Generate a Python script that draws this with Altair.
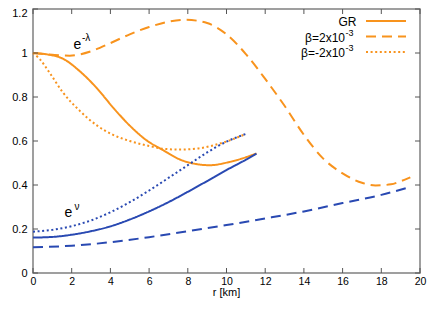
import altair as alt
import pandas as pd

# ---- data ----
r_gr_lam = [0, 0.7, 1.55, 2.42, 3.28, 4.14, 5.0, 5.87, 6.73, 7.59, 8.45, 9.14, 10.17, 11.55]
gr_lam = [1.0, 0.994, 0.974, 0.917, 0.842, 0.752, 0.670, 0.603, 0.558, 0.516, 0.495, 0.490, 0.505, 0.543]

r_plus_lam = [0, 1, 1.9, 3, 4, 5, 6, 7, 7.9, 9, 10, 11, 12, 13, 14, 15, 16, 17, 17.7, 18.5, 19, 19.5]
plus_lam = [1.0, 0.992, 0.988, 1.008, 1.045, 1.085, 1.118, 1.142, 1.151, 1.136, 1.085, 0.995,
            0.882, 0.76, 0.628, 0.52, 0.453, 0.41, 0.398, 0.403, 0.417, 0.435]

r_minus_lam = [0, 0.35, 0.86, 1.55, 2.42, 3.28, 4.14, 5.0, 5.87, 6.73, 7.59, 8.45, 9.31, 10.17, 11.0]
minus_lam = [1.0, 0.972, 0.91, 0.82, 0.737, 0.672, 0.628, 0.600, 0.580, 0.565, 0.561, 0.565,
             0.580, 0.603, 0.632]

r_gr_nu = [0, 1, 2, 3, 4, 5, 6, 7, 8, 9, 10, 11, 11.55]
gr_nu = [0.161, 0.164, 0.174, 0.19, 0.212, 0.243, 0.28, 0.322, 0.369, 0.418, 0.468, 0.515, 0.543]

r_plus_nu = [0, 2, 4, 6, 8, 10, 12, 14, 16, 18, 19.45]
plus_nu = [0.117, 0.124, 0.14, 0.163, 0.19, 0.218, 0.248, 0.28, 0.318, 0.355, 0.39]

r_minus_nu = [0, 1, 2, 3, 4, 5, 6, 7, 8, 9, 10, 11.0]
minus_nu = [0.188, 0.196, 0.213, 0.239, 0.276, 0.322, 0.375, 0.432, 0.49, 0.548, 0.597, 0.632]

x_ticks = [0, 2, 4, 6, 8, 10, 12, 14, 16, 18, 20]
y_ticks = [0, 0.2, 0.4, 0.6, 0.8, 1.0, 1.2]

models = ["GR", "plus", "minus"]
legend_main = ["GR", "β=2x10", "β=-2x10"]
legend_sup = ["", "-3", "-3"]
x_title = "r [km]"

ORANGE = "#f8931d"
BLUE = "#2949b2"
FONT = "Liberation Sans"

rows = []
for func, model, rr, vv in [
    ("lam", "GR", r_gr_lam, gr_lam),
    ("lam", "plus", r_plus_lam, plus_lam),
    ("lam", "minus", r_minus_lam, minus_lam),
    ("nu", "GR", r_gr_nu, gr_nu),
    ("nu", "plus", r_plus_nu, plus_nu),
    ("nu", "minus", r_minus_nu, minus_nu),
]:
    for a, b in zip(rr, vv):
        rows.append({"r": a, "v": b, "func": func, "model": model, "curve": func + model})
df = pd.DataFrame(rows)

W, H = 387, 264
xs = alt.Scale(domain=[0, 20], nice=False, zero=False)
ys = alt.Scale(domain=[0, 1.2], nice=False, zero=False)

x_axis = alt.Axis(values=x_ticks, title=None, format="~g", labelOverlap=False, labelFlush=False)
y_axis = alt.Axis(values=y_ticks, title=None, format="~g", labelOverlap=False, labelFlush=False,
                  labelOffset={"condition": {"test": "datum.value >= 1.19", "value": 4.5}, "value": 0})

dash_range = [[1, 0], [10, 6], [2, 2.6]]
color_scale = alt.Scale(domain=["lam", "nu"], range=[ORANGE, BLUE])
dash_scale = alt.Scale(domain=models, range=dash_range)

lines = alt.Chart(df).mark_line(strokeWidth=2, interpolate="monotone").encode(
    x=alt.X("r:Q", scale=xs, axis=x_axis),
    y=alt.Y("v:Q", scale=ys, axis=y_axis),
    color=alt.Color("func:N", scale=color_scale, legend=None),
    strokeDash=alt.StrokeDash("model:N", scale=dash_scale, legend=None),
    detail="curve:N",
)

# inward ticks on all four sides
xt = pd.DataFrame({"t": x_ticks})
yt = pd.DataFrame({"t": y_ticks})
TICK = 5
tick_col = "#555555"
tb = alt.Chart(xt).mark_rule(color=tick_col, strokeWidth=1).encode(
    x=alt.X("t:Q", scale=xs, axis=x_axis), y=alt.value(H), y2=alt.value(H - TICK))
tt = alt.Chart(xt).mark_rule(color=tick_col, strokeWidth=1).encode(
    x=alt.X("t:Q", scale=xs, axis=x_axis), y=alt.value(0), y2=alt.value(TICK))
tl = alt.Chart(yt).mark_rule(color=tick_col, strokeWidth=1).encode(
    y=alt.Y("t:Q", scale=ys, axis=y_axis), x=alt.value(0), x2=alt.value(TICK))
tr = alt.Chart(yt).mark_rule(color=tick_col, strokeWidth=1).encode(
    y=alt.Y("t:Q", scale=ys, axis=y_axis), x=alt.value(W), x2=alt.value(W - TICK))

# text helper
def txt(s, x, y, size, align="left"):
    return alt.Chart(pd.DataFrame({"s": [s]})).mark_text(
        align=align, baseline="alphabetic", font=FONT, fontSize=size, color="black"
    ).encode(text="s:N", x=alt.value(x), y=alt.value(y))

labels = [
    txt("e", 40.5, 40, 14), txt("-λ", 49, 32, 10),
    txt("e", 31.5, 208, 14), txt("ν", 41.5, 200.5, 10),
    txt(x_title, 193.5, 287, 11, "center"),
]

# manual legend (label left, sample right, as in the reference)
leg_layers = []
line_y = [12, 27.5, 43]
base_y = [17, 32.5, 48]
for i, m in enumerate(models):
    ldf = pd.DataFrame({"model": [m], "func": ["lam"]})
    leg_layers.append(
        alt.Chart(ldf).mark_rule(strokeWidth=2).encode(
            x=alt.value(333), x2=alt.value(373), y=alt.value(line_y[i]),
            color=alt.Color("func:N", scale=color_scale, legend=None),
            strokeDash=alt.StrokeDash("model:N", scale=dash_scale, legend=None),
        )
    )
    if legend_sup[i]:
        leg_layers.append(txt(legend_main[i], 312, base_y[i], 12, "right"))
        leg_layers.append(txt(legend_sup[i], 312.5, base_y[i] - 6, 9))
    else:
        leg_layers.append(txt(legend_main[i], 323.5, base_y[i], 12, "right"))

chart = alt.layer(lines, tb, tt, tl, tr, *labels, *leg_layers).properties(
    width=W, height=H,
    padding={"left": 25, "top": 1, "right": 8, "bottom": 26},
    autosize=alt.AutoSizeParams(type="none"),
).configure_view(
    stroke="#808080", strokeWidth=1.5
).configure_axis(
    domain=False, ticks=False, tickSize=0, grid=False,
    labelFont=FONT, labelFontSize=11, labelColor="black",
).configure_axisX(
    labelFontSize=10.5, labelPadding=3
).configure_axisY(
    labelPadding=6
)

chart.save("out.html", embed_options={"renderer": "svg", "actions": False})
